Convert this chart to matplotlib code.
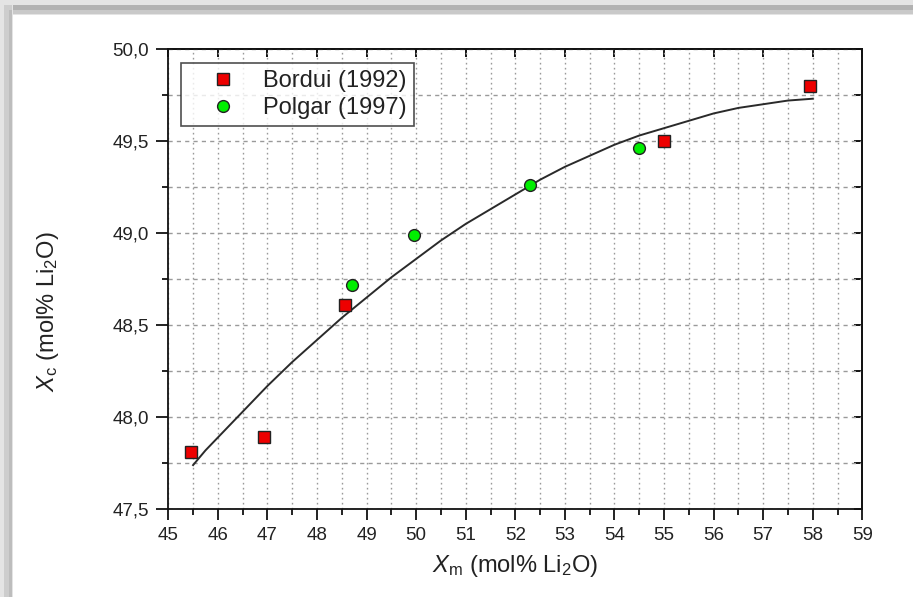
import matplotlib
matplotlib.use("Agg")
import matplotlib.pyplot as plt
from matplotlib.patches import Rectangle
from matplotlib.ticker import MultipleLocator

plt.rcParams['font.family'] = ['Liberation Sans', 'DejaVu Sans']
plt.rcParams['mathtext.fontset'] = 'custom'
plt.rcParams['mathtext.rm'] = 'Liberation Sans'
plt.rcParams['mathtext.it'] = 'Liberation Sans:italic'

# melt composition vs crystal composition
bordui_xm = [45.45, 46.93, 48.57, 55.00, 57.94]
bordui_xc = [47.81, 47.89, 48.61, 49.50, 49.80]
polgar_xm = [48.71, 49.96, 52.30, 54.50]
polgar_xc = [48.72, 48.99, 49.26, 49.46]

# fitted curve
fit_xm = [45.5, 45.75, 46.0, 46.25, 46.5, 46.75, 47.0, 47.5, 48.0, 48.5, 49.0,
          49.5, 50.0, 50.5, 51.0, 51.5, 52.0, 52.5, 53.0, 53.5, 54.0, 54.5,
          55.0, 55.5, 56.0, 56.5, 57.0, 57.5, 58.0]
fit_xc = [47.74, 47.82, 47.89, 47.96, 48.03, 48.10, 48.17, 48.30, 48.42, 48.54,
          48.65, 48.76, 48.86, 48.96, 49.05, 49.13, 49.21, 49.29, 49.36, 49.42,
          49.48, 49.53, 49.57, 49.61, 49.65, 49.68, 49.70, 49.72, 49.73]

tc = '#222222'

fig = plt.figure(figsize=(9.13, 5.97), dpi=100)
fig.patch.set_facecolor('white')

# grey frame along the top and left edge
H, W = 597.0, 913.0
for x0, y0, w, h, c in [
        (0, 1 - 15 / H, 1, 15 / H, '#e4e4e4'),
        (0, 1 - 14 / H, 1, 9 / H, '#c9c9c9'),
        (0, 1 - 10 / H, 1, 5 / H, '#b2b2b2'),
        (0, 0, 13 / W, 1, '#e4e4e4'),
        (4 / W, 0, 8 / W, 1 - 5 / H, '#cdcdcd'),
        (9 / W, 0, 3 / W, 1 - 10 / H, '#bdbdbd')]:
    fig.add_artist(Rectangle((x0, y0), w, h, transform=fig.transFigure,
                             facecolor=c, edgecolor='none', zorder=0))

ax = fig.add_axes([168.3 / W, 1 - 509.3 / H, 694 / W, 460.3 / H])

ax.plot(fit_xm, fit_xc, color='#2a2a2a', lw=1.4, solid_joinstyle='round', zorder=3)
ax.plot(bordui_xm, bordui_xc, 's', ms=8, mfc='#ee0000', mec='#222222', mew=1.0,
        ls='none', label='Bordui (1992)', zorder=4)
ax.plot(polgar_xm, polgar_xc, 'o', ms=8.5, mfc='#00ee00', mec='#222222', mew=1.0,
        ls='none', label='Polgar (1997)', zorder=4)

ax.set_xlim(45, 59)
ax.set_ylim(47.5, 50.0)
ax.xaxis.set_major_locator(MultipleLocator(1))
ax.xaxis.set_minor_locator(MultipleLocator(0.5))
ax.yaxis.set_major_locator(MultipleLocator(0.5))
ax.yaxis.set_minor_locator(MultipleLocator(0.25))
ax.yaxis.set_major_formatter(lambda v, p: f'{v:.1f}'.replace('.', ','))

ax.grid(True, which='both', axis='x', color='#9a9a9a', ls=(0, (1.2, 2.4)), lw=1.0)
ax.grid(True, which='both', axis='y', color='#9a9a9a', ls=(0, (3, 3)), lw=1.0)
ax.set_axisbelow(True)

for s in ax.spines.values():
    s.set_linewidth(1.3)
    s.set_color('#111111')

ax.tick_params(which='major', direction='out', length=8, width=1.3,
               labelsize=13.5, labelcolor=tc, color='#111111', pad=5)
ax.tick_params(axis='y', which='major', length=9)
ax.tick_params(which='minor', direction='out', length=4.5, width=1.3,
               color='#111111')

top = ax.secondary_xaxis('top')
top.xaxis.set_major_locator(MultipleLocator(1))
top.xaxis.set_minor_locator(plt.NullLocator())
top.tick_params(direction='in', length=6, width=1.3, labeltop=False)
right = ax.secondary_yaxis('right')
right.yaxis.set_major_locator(MultipleLocator(0.25))
right.yaxis.set_minor_locator(plt.NullLocator())
right.tick_params(direction='in', length=6, width=1.3, labelright=False)
for sec in (top, right):
    for s in sec.spines.values():
        s.set_linewidth(1.3)
        s.set_color('#111111')

ax.set_xlabel(r'$X_\mathrm{m}$ (mol% Li$_\mathrm{2}$O)', fontsize=17, color=tc,
              labelpad=6)
ax.set_ylabel(r'$X_\mathrm{c}$ (mol% Li$_\mathrm{2}$O)', fontsize=17, color=tc)
ax.yaxis.set_label_coords(-0.155, 0.43)

leg = ax.legend(loc='upper left', bbox_to_anchor=(0.019, 0.969), fontsize=17,
                frameon=True, fancybox=False, borderpad=0.3, labelspacing=0.2,
                handletextpad=0.2, handlelength=2.95, borderaxespad=0)
leg.get_frame().set_edgecolor('#222222')
leg.get_frame().set_linewidth(1.2)
for t in leg.get_texts():
    t.set_color(tc)

fig.savefig('out.png', dpi=100, facecolor='white')
